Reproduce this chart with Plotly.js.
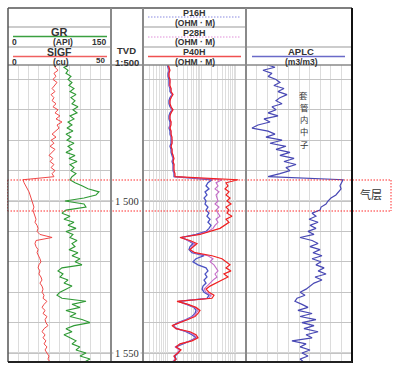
<!DOCTYPE html>
<html><head><meta charset="utf-8">
<script src="https://cdn.plot.ly/plotly-3.0.1.min.js"></script>
<style>html,body{margin:0;padding:0;background:#fff}#chart{width:401px;height:374px}</style>
</head><body><div id="chart"></div>
<script>
// Depth (TVD, m)
const depth = [1455,1456,1457,1458,1459,1460,1461,1462,1463,1464,1465,1466,1467,1468,1469,1470,1471,1472,1473,1474,1475,1476,1477,1478,1479,1480,1481,1482,1483,1484,1485,1486,1487,1488,1489,1490,1491,1492,1493,1494,1495,1496,1497,1498,1499,1500,1501,1502,1503,1504,1505,1506,1507,1508,1509,1510,1511,1512,1513,1514,1515,1516,1517,1518,1519,1520,1521,1522,1523,1524,1525,1526,1527,1528,1529,1530,1531,1532,1533,1534,1535,1536,1537,1538,1539,1540,1541,1542,1543,1544,1545,1546,1547,1548,1549,1550,1551,1552,1553];
// SIGF (cu), 0-50
const sigf = [23.8,22.8,24.3,22.3,23.3,21.8,23.8,22.8,21.4,22.8,20.9,22.3,21.4,23.3,21.8,24.3,22.8,25.2,23.3,26.2,23.8,24.8,22.8,21.4,23.3,20.9,22.3,20.4,22.8,21.4,19.9,21.8,20.4,22.3,20.9,22.8,21.4,22.3,7.3,7.8,8.7,9.7,10.2,10.7,11.2,11.7,12.1,12.6,12.1,12.6,13.1,13.6,13.1,14.1,14.6,14.1,15.5,21.4,13.6,13.1,13.6,14.6,14.1,15.0,15.5,16.0,15.0,14.6,15.5,15.0,16.0,16.5,15.5,16.5,17.0,16.5,17.5,17.0,18.9,17.5,16.5,18.0,17.0,18.9,18.0,18.4,19.4,17.5,16.5,18.0,17.0,18.4,17.5,18.9,18.0,18.9,19.9,19.4,20.4];
// GR (API), 0-150
const gr = [90.3,81.5,87.4,84.4,91.7,87.4,93.2,88.8,96.1,90.3,99.0,91.7,97.6,93.2,101.9,94.6,100.5,90.3,96.1,87.4,93.2,85.9,94.6,84.4,91.7,85.9,96.1,87.4,93.2,84.4,97.6,88.8,100.5,90.3,96.1,91.7,99.0,93.2,90.3,97.6,107.7,116.5,132.5,128.1,110.7,83.0,110.7,113.6,84.4,78.6,90.3,81.5,96.1,87.4,99.0,84.4,94.6,90.3,100.5,93.2,97.6,88.8,101.9,93.2,104.8,97.6,107.7,78.6,72.8,80.1,75.7,87.4,81.5,93.2,84.4,75.7,71.3,78.6,113.6,93.2,104.8,84.4,99.0,90.3,107.7,119.4,96.1,84.4,93.2,81.5,90.3,99.0,93.2,104.8,99.0,113.6,104.8,119.4,110.7];
// Resistivities (ohm.m)
const p16h = [1.00,1.07,1.14,1.07,1.07,1.14,1.14,1.14,1.22,1.22,1.40,1.22,1.14,1.14,1.22,1.40,1.22,1.14,1.14,1.22,1.22,1.14,1.22,1.22,1.31,1.31,1.31,1.22,1.31,1.31,1.40,1.50,1.40,1.50,1.50,1.50,1.60,1.60,20.5,15.6,13.7,16.7,12.8,14.6,12.0,13.7,12.8,15.6,13.7,16.7,14.6,17.9,15.6,19.1,16.7,13.7,7.0,2.74,4.09,5.72,4.68,4.37,5.35,12.0,7.0,5.72,8.0,13.7,15.6,12.8,14.6,12.0,13.7,11.2,10.5,12.0,16.7,14.6,2.24,3.58,6.12,7.0,6.54,5.35,3.58,2.09,1.50,1.96,3.58,5.35,7.0,4.68,2.74,1.83,2.39,2.09,1.71,1.83,1.50];
const p28h = [1.07,1.14,1.14,1.14,1.14,1.22,1.22,1.14,1.31,1.31,1.40,1.31,1.22,1.22,1.31,1.40,1.31,1.22,1.22,1.31,1.22,1.22,1.31,1.31,1.31,1.40,1.40,1.31,1.40,1.40,1.50,1.50,1.50,1.60,1.50,1.60,1.60,1.71,40.0,26.8,30.6,25.0,32.7,26.8,28.6,30.6,25.0,32.7,26.8,30.6,35.0,26.8,30.6,25.0,21.9,15.6,8.0,2.56,4.37,6.54,5.35,4.68,6.12,15.6,21.9,17.9,23.4,26.8,30.6,25.0,28.6,21.9,17.9,14.6,12.0,13.7,19.1,16.7,2.09,3.83,6.54,8.0,7.0,5.72,3.83,2.24,1.50,1.83,4.09,6.12,7.48,5.0,2.56,1.71,2.39,1.96,1.60,1.71,1.40];
const p40h = [1.07,1.14,1.22,1.14,1.14,1.22,1.22,1.22,1.31,1.31,1.50,1.31,1.22,1.22,1.31,1.50,1.31,1.22,1.22,1.31,1.31,1.22,1.31,1.31,1.40,1.40,1.40,1.31,1.40,1.40,1.50,1.60,1.50,1.60,1.60,1.60,1.71,1.71,117,52.3,59.8,48.9,63.9,52.3,68.4,55.9,73.1,52.3,63.9,55.9,78.2,52.3,63.9,45.7,35.0,17.9,9.15,2.39,4.68,7.48,5.72,4.68,6.54,20.5,40.0,52.3,68.4,52.3,73.1,45.7,59.8,40.0,26.8,17.9,13.7,16.7,23.4,20.5,1.96,4.09,7.0,9.15,8.0,6.54,4.09,2.39,1.40,1.83,4.68,7.0,8.0,5.35,2.39,1.83,2.56,2.09,1.60,1.83,1.50];
// APLC (m3/m3)
const aplc = [0.492,0.436,0.504,0.453,0.475,0.430,0.408,0.442,0.385,0.419,0.368,0.408,0.430,0.396,0.453,0.430,0.475,0.419,0.498,0.464,0.532,0.566,0.475,0.436,0.487,0.396,0.464,0.374,0.430,0.351,0.408,0.328,0.385,0.317,0.374,0.351,0.408,0.475,0.051,0.062,0.068,0.062,0.074,0.091,0.119,0.136,0.147,0.175,0.181,0.226,0.204,0.243,0.192,0.238,0.204,0.249,0.215,0.294,0.226,0.192,0.238,0.181,0.221,0.170,0.226,0.175,0.204,0.158,0.192,0.147,0.209,0.170,0.215,0.238,0.260,0.294,0.266,0.311,0.323,0.283,0.249,0.306,0.226,0.294,0.204,0.283,0.215,0.272,0.192,0.260,0.226,0.340,0.260,0.294,0.238,0.283,0.249,0.294,0.272];
const depthTickValues = [1500, 1550];
const depthTickLabels = ['1 500', '1 550'];
const noteChars = ['套', '管', '内', '中', '子'];

const W = 401, H = 374;
const X = p => p / W, Y = p => 1 - p / H;
const SANS = 'Liberation Sans, Arial, sans-serif';
const TXT = '#333';

const traces = [
  {x: sigf, y: depth, xaxis: 'x', yaxis: 'y', mode: 'lines', line: {color: '#f04848', width: 1}},
  {x: gr, y: depth, xaxis: 'x5', yaxis: 'y', mode: 'lines', line: {color: '#2f9a35', width: 1.1}},
  {x: p16h, y: depth, xaxis: 'x2', yaxis: 'y', mode: 'lines', line: {color: '#4c52c4', width: 1.3}},
  {x: p28h, y: depth, xaxis: 'x2', yaxis: 'y', mode: 'lines', line: {color: '#c46ac8', width: 1.1}},
  {x: p40h, y: depth, xaxis: 'x2', yaxis: 'y', mode: 'lines', line: {color: '#f02020', width: 1.2}},
  {x: aplc, y: depth, xaxis: 'x3', yaxis: 'y', mode: 'lines', line: {color: '#4848b4', width: 1.2}}
];

const axBase = {showticklabels: false, ticks: '', zeroline: false, showline: false, fixedrange: true};
const layout = {
  width: W, height: H, margin: {l: 0, r: 0, t: 0, b: 0},
  paper_bgcolor: '#fff', plot_bgcolor: 'rgba(0,0,0,0)', showlegend: false,
  xaxis: Object.assign({}, axBase, {domain: [X(8), X(111)], range: [0, 50], dtick: 5, showgrid: true, gridcolor: '#dcdcdc', gridwidth: 1, anchor: 'y'}),
  xaxis5: Object.assign({}, axBase, {overlaying: 'x', range: [0, 150], showgrid: false, anchor: 'y'}),
  xaxis2: Object.assign({}, axBase, {domain: [X(143), X(246)], type: 'log', range: [Math.log10(0.2), Math.log10(200)], dtick: 'D1', showgrid: true, gridcolor: '#dedede', gridwidth: 1, anchor: 'y'}),
  xaxis3: Object.assign({}, axBase, {domain: [X(246), X(352)], range: [0.6, 0], dtick: 0.06, showgrid: true, gridcolor: '#dcdcdc', gridwidth: 1, anchor: 'y'}),
  yaxis: Object.assign({}, axBase, {domain: [Y(362), Y(65)], range: [1552.96, 1455.26], tick0: 1450, dtick: 10, showgrid: true, gridcolor: '#c4c4c4', gridwidth: 1, anchor: 'x'}),
  shapes: [], annotations: []
};

function line(x0, y0, x1, y1, color, width, dash, layer) {
  layout.shapes.push({type: 'line', xref: 'paper', yref: 'paper', x0: X(x0), y0: Y(y0), x1: X(x1), y1: Y(y1),
    line: {color: color, width: width, dash: dash || 'solid'}, layer: layer || 'above'});
}
function ann(text, x, y, size, opt) {
  opt = opt || {};
  layout.annotations.push(Object.assign({text: text, xref: 'paper', yref: 'paper', x: X(x), y: Y(y),
    xanchor: 'center', yanchor: 'middle', showarrow: false,
    font: {family: SANS, size: size, color: TXT}}, opt));
}

// major depth lines
depthTickValues.forEach(d => {
  layout.shapes.push({type: 'line', xref: 'paper', yref: 'y', x0: X(8), x1: X(352), y0: d, y1: d,
    line: {color: '#a8a8a8', width: 1}, layer: 'between'});
});

// gas layer box (fine dotted red)
const DOTS = '1.5px,1.5px';
line(7.5, 180, 391, 180, '#ff2a2a', 1, DOTS);
line(7.5, 211, 391, 211, '#ff2a2a', 1, DOTS);
line(7.5, 180, 7.5, 211, '#ff2a2a', 1, DOTS);
line(391, 180, 391, 211, '#ff2a2a', 1, DOTS);

// header frame
line(8, 8, 352, 8, '#555', 1.5);
line(8, 65, 352, 65, '#888', 1.5);
line(8, 27, 111, 27, '#999', 1);
line(143, 27, 246, 27, '#999', 1);
line(8, 47, 111, 47, '#999', 1);
line(143, 47, 352, 47, '#999', 1);
// track borders
line(8, 8, 8, 362, '#555', 1.5);
line(111, 8, 111, 362, '#8a8a8a', 2);
line(143, 8, 143, 362, '#8a8a8a', 2);
line(246, 8, 246, 362, '#8a8a8a', 2);
line(352, 8, 352, 363, '#111', 2);
line(8, 362, 352, 362, '#222', 2);

// header legend lines
line(13, 36.5, 107, 36.5, '#3aa040', 1.5);
line(13, 56.5, 107, 56.5, '#f06060', 1.5);
line(148, 17, 241, 17, '#8a8ae0', 1, DOTS);
line(148, 37, 241, 37, '#e090d8', 1, DOTS);
line(148, 56.5, 241, 56.5, '#f05050', 1.5);
line(252, 56.5, 345, 56.5, '#6a6ac8', 1.5);

// header texts
ann('<b>GR</b>', 59, 31.5, 11);
ann('<b>0</b>', 10, 42, 8.5, {xanchor: 'left'});
ann('<b>(API)</b>', 63, 42, 8.5);
ann('<b>150</b>', 108, 42, 8.5, {xanchor: 'right'});
ann('<b>SIGF</b>', 59, 51.5, 10.5);
ann('<b>0</b>', 10, 61.5, 8.5, {xanchor: 'left'});
ann('<b>(cu)</b>', 61, 61.5, 8.5);
ann('<b>50</b>', 107, 60.5, 8, {xanchor: 'right'});
ann('<b>TVD</b>', 127, 50.5, 9.5);
ann('<b>1:500</b>', 127, 62, 9.5);
ann('<b>P16H</b>', 194.5, 12.5, 9);
ann('<b>(OHM · M)</b>', 194.5, 22.5, 8.5);
ann('<b>P28H</b>', 194.5, 32.5, 9);
ann('<b>(OHM · M)</b>', 194.5, 42, 8.5);
ann('<b>P40H</b>', 194.5, 51.5, 9);
ann('<b>(OHM · M)</b>', 194.5, 61.5, 8.5);
ann('<b>APLC</b>', 301, 51.5, 9.5);
ann('<b>(m3/m3)</b>', 301, 61.5, 8.5);

// depth labels
depthTickValues.forEach((d, i) => {
  layout.annotations.push({text: depthTickLabels[i], xref: 'paper', yref: 'y', x: X(126.5), y: d,
    xanchor: 'center', yanchor: 'middle', showarrow: false, bgcolor: '#fff', borderpad: 1,
    font: {family: 'Liberation Serif, Times New Roman, serif', size: 10.5, color: TXT}});
});

// vertical Chinese note, one character per annotation
const CJK = 'Noto Sans CJK SC, sans-serif';
noteChars.forEach((c, i) => {
  ann(c, 303.5, 94.5 + i * 12.3, 8.4, {font: {family: CJK, size: 8.4, color: TXT}});
});

ann('气层', 371, 194, 11, {font: {family: CJK, size: 11, color: TXT}});

Plotly.newPlot('chart', traces, layout, {staticPlot: true, displayModeBar: false});
</script>
</body></html>
